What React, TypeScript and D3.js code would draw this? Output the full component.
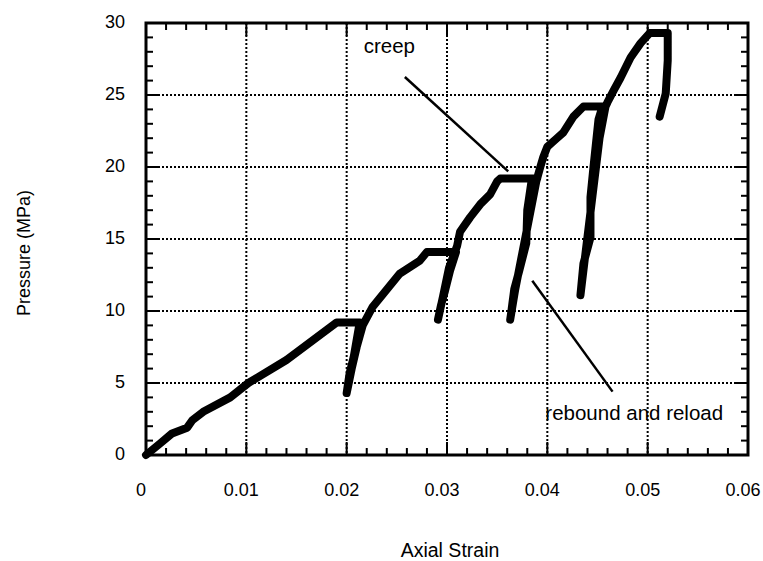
import React from 'react'
import * as d3 from 'd3'

// strain / pressure (MPa) pairs, in test order
const cycle1: [number, number][] = [
  [0, 0], [0.0014, 0.8], [0.0026, 1.5], [0.0041, 1.9], [0.0046, 2.4], [0.0057, 3.0],
  [0.0084, 4.0], [0.0102, 5.0], [0.014, 6.6], [0.0167, 8.0], [0.019, 9.2], [0.0213, 9.2],
  [0.0207, 6.8], [0.0203, 5.7], [0.020, 4.3],
  [0.0205, 6.0], [0.021, 7.5], [0.0216, 9.0],
]
const cycle2: [number, number][] = [
  [0.0226, 10.3], [0.024, 11.5], [0.0253, 12.6], [0.0273, 13.5], [0.028, 14.1], [0.0309, 14.1],
  [0.0303, 12.8], [0.0298, 11.4], [0.0294, 10.4], [0.0291, 9.4],
  [0.0296, 11.0], [0.0302, 13.0], [0.031, 14.5],
]
const cycle3: [number, number][] = [
  [0.0313, 15.5], [0.0323, 16.5], [0.0333, 17.4], [0.0343, 18.1], [0.035, 19.0], [0.0353, 19.2], [0.039, 19.2],
  [0.0384, 18.9], [0.038, 17.0], [0.0379, 14.7], [0.0372, 12.8], [0.0367, 11.5], [0.0364, 9.9], [0.0363, 9.4],
  [0.0368, 11.5], [0.0375, 14.0], [0.0382, 16.5], [0.0389, 19.0], [0.0393, 20.0],
]
const cycle4: [number, number][] = [
  [0.0396, 20.7], [0.04, 21.4], [0.0408, 21.9], [0.0416, 22.4], [0.0426, 23.5], [0.0436, 24.2], [0.0455, 24.2],
  [0.0451, 23.3], [0.0446, 20.0], [0.0443, 17.9], [0.0443, 15.1], [0.0436, 13.3], [0.0433, 11.1],
  [0.0438, 14.0], [0.0445, 18.0], [0.0452, 22.0], [0.0458, 24.2],
]
const cycle5: [number, number][] = [
  [0.046, 24.5], [0.0466, 25.3], [0.0473, 26.2], [0.0483, 27.6], [0.0493, 28.6], [0.0502, 29.3], [0.052, 29.3],
  [0.052, 27.4], [0.0518, 25.1], [0.0512, 23.5],
]

const strainTicks = [0, 0.01, 0.02, 0.03, 0.04, 0.05, 0.06]
const pressureTicks = [0, 5, 10, 15, 20, 25, 30]

// annotation leaders: [strain, pressure] endpoints
const creepLeader: [number, number][] = [[0.0258, 26.25], [0.0361, 19.7]]
const reloadLeader: [number, number][] = [[0.0385, 12.1], [0.0465, 4.4]]

const W = 763
const H = 561
const left = 146, right = 748, top = 23, bottom = 455
const font = '"Liberation Sans", Arial, Helvetica, sans-serif'

export default function App() {
  const x = d3.scaleLinear().domain([0, 0.06]).range([left, right])
  const y = d3.scaleLinear().domain([0, 30]).range([bottom, top])

  const line = d3.line<[number, number]>()
    .x(d => x(d[0]))
    .y(d => y(d[1]))

  const path = [...cycle1, ...cycle2, ...cycle3, ...cycle4, ...cycle5]

  const xMinor = d3.range(0, 0.0601, 0.002).filter(v => Math.abs(v / 0.01 - Math.round(v / 0.01)) > 1e-6)
  const yMinor = d3.range(0, 30.01, 1).filter(v => v % 5 !== 0)

  return (
    <svg width={W} height={H} style={{ position: 'absolute', left: 0, top: 0, background: '#fff' }}
      fontFamily={font}>
      {/* dotted grid */}
      <g stroke="#000" strokeWidth={2} strokeDasharray="2,2">
        {strainTicks.slice(1, -1).map(t => (
          <line key={'gx' + t} x1={x(t)} x2={x(t)} y1={top} y2={bottom} />
        ))}
        {pressureTicks.slice(1, -1).map(t => (
          <line key={'gy' + t} x1={left} x2={right} y1={y(t)} y2={y(t)} />
        ))}
      </g>

      {/* ticks, inward on all sides */}
      <g stroke="#000" strokeWidth={2}>
        {strainTicks.map(t => (
          <g key={'mx' + t}>
            <line x1={x(t)} x2={x(t)} y1={bottom} y2={bottom - 13} />
            <line x1={x(t)} x2={x(t)} y1={top} y2={top + 13} />
          </g>
        ))}
        {xMinor.map(t => (
          <g key={'nx' + t}>
            <line x1={x(t)} x2={x(t)} y1={bottom} y2={bottom - 7} />
            <line x1={x(t)} x2={x(t)} y1={top} y2={top + 7} />
          </g>
        ))}
        {pressureTicks.map(t => (
          <g key={'my' + t}>
            <line x1={left} x2={left + 13} y1={y(t)} y2={y(t)} />
            <line x1={right} x2={right - 13} y1={y(t)} y2={y(t)} />
          </g>
        ))}
        {yMinor.map(t => (
          <g key={'ny' + t}>
            <line x1={left} x2={left + 7} y1={y(t)} y2={y(t)} />
            <line x1={right} x2={right - 7} y1={y(t)} y2={y(t)} />
          </g>
        ))}
      </g>

      {/* frame */}
      <rect x={left} y={top} width={right - left} height={bottom - top}
        fill="none" stroke="#000" strokeWidth={3} />

      {/* data */}
      <path d={line(path) || ''} fill="none" stroke="#000" strokeWidth={8}
        strokeLinecap="round" strokeLinejoin="round" />

      {/* annotations */}
      <path d={line(creepLeader) || ''} stroke="#000" strokeWidth={2.5} fill="none" />
      <path d={line(reloadLeader) || ''} stroke="#000" strokeWidth={2.5} fill="none" />
      <text x={x(0.0217)} y={y(27.9)} fontSize={20.5}>creep</text>
      <text x={x(0.0398)} y={y(2.43)} fontSize={20.5}>rebound and reload</text>

      {/* tick labels */}
      {strainTicks.map(t => (
        <text key={'lx' + t} x={x(t) - 5} y={496} fontSize={18} textAnchor="middle">{String(t)}</text>
      ))}
      {pressureTicks.map(t => (
        <text key={'ly' + t} x={125} y={y(t) + 5} fontSize={18} textAnchor="end">{t}</text>
      ))}

      {/* axis titles */}
      <text x={450} y={557} fontSize={19.5} textAnchor="middle">Axial Strain</text>
      <text transform={`translate(30,253) rotate(-90)`} fontSize={18} textAnchor="middle">Pressure (MPa)</text>
    </svg>
  )
}
